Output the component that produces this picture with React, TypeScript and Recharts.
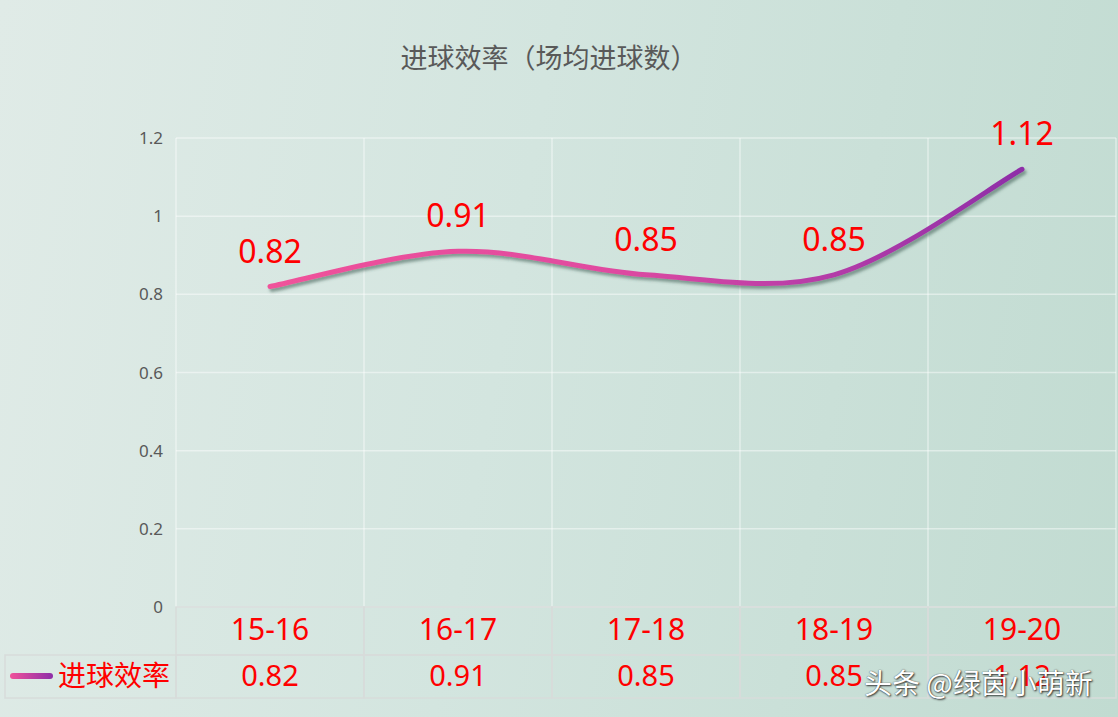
import React from 'react';
import { LineChart, Line, XAxis, YAxis, CartesianGrid, LabelList } from 'recharts';

const seasons = ['15-16', '16-17', '17-18', '18-19', '19-20'];
const goalsPerGame = [0.82, 0.91, 0.85, 0.85, 1.12];
const yTicks = [0, 0.2, 0.4, 0.6, 0.8, 1, 1.2];
const seriesName = '进球效率';
const chartTitle = '进球效率（场均进球数）';
const watermark = '头条 @绿茵小萌新';

const data = seasons.map((season, i) => ({ season, value: goalsPerGame[i] }));

const FONT = '"Noto Sans", "Noto Sans CJK SC", sans-serif';
const CJK = '"Noto Sans CJK SC", "Noto Sans", sans-serif';
const RED = '#ff0000';
const TABLE_LINE = '#d7dcda';

// office-style smoothed line (uniform catmull-rom through every point)
function smoothCurve(context: any) {
  let pts: number[][] = [];
  return {
    areaStart() {},
    areaEnd() {},
    lineStart() {
      pts = [];
    },
    point(x: number, y: number) {
      pts.push([+x, +y]);
    },
    lineEnd() {
      const n = pts.length;
      if (!n) return;
      context.moveTo(pts[0][0], pts[0][1]);
      for (let i = 0; i < n - 1; i++) {
        const p0 = pts[Math.max(i - 1, 0)];
        const p1 = pts[i];
        const p2 = pts[i + 1];
        const p3 = pts[Math.min(i + 2, n - 1)];
        context.bezierCurveTo(
          p1[0] + (p2[0] - p0[0]) / 6,
          p1[1] + (p2[1] - p0[1]) / 6,
          p2[0] - (p3[0] - p1[0]) / 6,
          p2[1] - (p3[1] - p1[1]) / 6,
          p2[0],
          p2[1]
        );
      }
    },
  };
}

// data table under the axis, drawn per category tick
function TableTick(props: any) {
  const { x, y, width, index, payload } = props;
  const half = width / seasons.length / 2;
  const row1 = 48;
  const row2 = 43;
  return (
    <g>
      <rect x={x - half} y={y} width={half * 2} height={row1} fill="none" stroke={TABLE_LINE} strokeWidth={1.5} />
      <rect x={x - half} y={y + row1} width={half * 2} height={row2} fill="none" stroke={TABLE_LINE} strokeWidth={1.5} />
      <text x={x} y={y + 33} textAnchor="middle" fill={RED} fontSize={30} fontFamily={FONT}>
        {payload.value}
      </text>
      <text x={x} y={y + row1 + 31} textAnchor="middle" fill={RED} fontSize={29} fontFamily={FONT}>
        {goalsPerGame[index]}
      </text>
      {index === 0 && (
        <g>
          <rect x={5} y={y + row1} width={x - half - 5} height={row2} fill="none" stroke={TABLE_LINE} strokeWidth={1.5} />
          <rect x={10} y={y + row1 + 18} width={43} height={6} rx={3} fill="url(#legendGrad)" />
          <text x={58} y={y + row1 + 31} fill={RED} fontSize={28} fontFamily={CJK}>
            {seriesName}
          </text>
        </g>
      )}
    </g>
  );
}

export default function App() {
  return (
    <div
      style={{
        position: 'absolute',
        left: 0,
        top: 0,
        width: 1118,
        height: 717,
        overflow: 'hidden',
        background: 'linear-gradient(100deg, #e0ebe7 0%, #d3e5df 45%, #c1dbd1 100%)',
      }}
    >
      <svg width={0} height={0} style={{ position: 'absolute' }}>
        <defs>
          <linearGradient id="lineGrad" x1="0" y1="0" x2="1" y2="0">
            <stop offset="0%" stopColor="#f0529a" />
            <stop offset="45%" stopColor="#e04aa0" />
            <stop offset="70%" stopColor="#bb3ea8" />
            <stop offset="100%" stopColor="#8e2ea8" />
          </linearGradient>
          <linearGradient id="legendGrad" x1="0" y1="0" x2="1" y2="0">
            <stop offset="0%" stopColor="#f0529a" />
            <stop offset="100%" stopColor="#8e2ea8" />
          </linearGradient>
          <filter id="lineShadow" filterUnits="userSpaceOnUse" x={0} y={0} width={1118} height={717}>
            <feDropShadow dx={2} dy={3} stdDeviation={1.6} floodColor="#3a5a50" floodOpacity={0.55} />
          </filter>
        </defs>
      </svg>
      <div
        style={{
          position: 'absolute',
          top: 37,
          left: 0,
          width: 1098,
          textAlign: 'center',
          fontFamily: CJK,
          fontSize: 27,
          color: '#595959',
        }}
      >
        {chartTitle}
      </div>
      <LineChart width={1118} height={717} data={data} margin={{ top: 138, right: 2, bottom: 0, left: 0 }}>
        <CartesianGrid
          stroke="#ffffff"
          strokeOpacity={0.45}
          strokeWidth={1.5}
          verticalCoordinatesGenerator={({ offset }: any) =>
            seasons.map((_, i) => offset.left + (offset.width * i) / seasons.length).concat(offset.left + offset.width)
          }
        />
        <XAxis
          dataKey="season"
          scale="band"
          height={110}
          axisLine={false}
          tickLine={false}
          tickSize={0}
          tickMargin={0}
          interval={0}
          tick={<TableTick />}
        />
        <YAxis
          width={176}
          domain={[0, 1.2]}
          ticks={yTicks}
          axisLine={false}
          tickLine={false}
          tickSize={0}
          tickMargin={13}
          tick={{ fill: '#595959', fontSize: 17, fontFamily: FONT }}
        />
        <Line
          type={smoothCurve as any}
          dataKey="value"
          stroke="url(#lineGrad)"
          strokeWidth={5}
          strokeLinecap="round"
          dot={false}
          activeDot={false}
          filter="url(#lineShadow)"
          isAnimationActive={false}
        >
          <LabelList dataKey="value" position="top" offset={24} fill={RED} fontSize={32} fontFamily={FONT} />
        </Line>
      </LineChart>
      <div
        style={{
          position: 'absolute',
          left: 864,
          top: 662,
          fontFamily: CJK,
          fontSize: 28,
          color: '#ffffff',
          textShadow: '1px 1px 2px #333, 0 0 1px #333',
        }}
      >
        {watermark}
      </div>
    </div>
  );
}
